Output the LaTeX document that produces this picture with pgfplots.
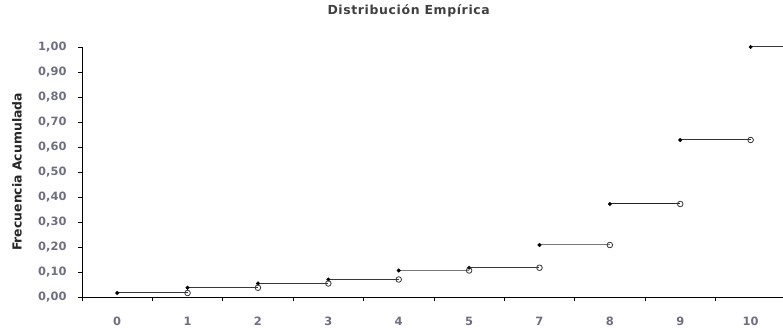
\documentclass[border=0pt]{standalone}
\usepackage{fontspec}
\setmainfont{DejaVu Sans}
\usepackage{pgfplots}
\pgfplotsset{compat=1.18}
\definecolor{ticklab}{RGB}{110,110,130}
\definecolor{dk}{RGB}{55,55,60}
\definecolor{lt}{RGB}{120,120,120}
\definecolor{nv}{RGB}{30,30,80}
\begin{document}
\begin{tikzpicture}
\begin{axis}[
  at={(0,0)}, anchor=south west,
  scale only axis, width=701bp, height=250bp,
  xmin=-0.5, xmax=9.46, ymin=0, ymax=1,
  clip=false,
  axis lines*=left,
  axis line style={-, black, line width=0.8bp},
  tick align=outside,
  tick style={black, line width=0.6bp},
  major tick length=4bp, minor tick length=4bp,
  xtick={0,1,2,3,4,5,6,7,8,9},
  xticklabels={0,1,2,3,4,5,7,8,9,10},
  x tick style={draw=none},
  minor xtick={-0.5,0.5,1.5,2.5,3.5,4.5,5.5,6.5,7.5,8.5},
  minor x tick style={draw=black, line width=0.6bp},
  ytick={0,0.1,0.2,0.3,0.4,0.5,0.6,0.7,0.8,0.9,1.0},
  yticklabel={\pgfmathprintnumber[fixed,fixed zerofill,precision=2,use comma]{\tick}},
  /pgf/number format/assume math mode=true,
  ticklabel style={font=\bfseries\fontsize{11.5}{13}\selectfont, text=ticklab},
  xticklabel style={anchor=center, yshift=-20.5bp, inner sep=0pt},
  yticklabel style={anchor=east, xshift=-8bp},
  ylabel={Frecuencia Acumulada},
  ylabel style={at={(axis description cs:-0.0927,0.5)}, anchor=center, font=\bfseries\fontsize{12.5}{14}\selectfont, text=black!85},
  title={\addfontfeatures{LetterSpace=5}Distribución Empírica},
  title style={at={(axis description cs:0.466,1)}, yshift=30bp, anchor=center, font=\bfseries\fontsize{12.5}{14}\selectfont, text=black!75},
]
% step segments
\addplot[dk, line width=1bp] coordinates {(0,0.016) (1,0.016)};
\addplot[dk, line width=1bp] coordinates {(1,0.037) (2,0.037)};
\addplot[dk, line width=1bp] coordinates {(2,0.054) (3,0.054)};
\addplot[dk, line width=1bp] coordinates {(3,0.070) (4,0.070)};
\addplot[lt, line width=1bp] coordinates {(4,0.106) (5,0.106)};
\addplot[dk, line width=1bp] coordinates {(5,0.117) (6,0.117)};
\addplot[lt, line width=1bp] coordinates {(6,0.208) (7,0.208)};
\addplot[nv, line width=1bp] coordinates {(7,0.372) (8,0.372)};
\addplot[dk!80!nv, line width=1bp] coordinates {(8,0.628) (9,0.628)};
\addplot[dk, line width=1bp] coordinates {(9,1.0) (9.46,1.0)};
% filled left ends
\addplot[only marks, mark=*, mark size=1.8bp, draw=black, fill=black] coordinates {
 (0,0.016) (1,0.037) (2,0.054) (3,0.070) (4,0.106) (5,0.117) (6,0.208) (7,0.372) (8,0.628) (9,1.0)};
% open right ends
\addplot[only marks, mark=o, mark size=2.8bp, draw=dk, line width=0.8bp, fill=white, mark options={fill=white}] coordinates {
 (1,0.016) (2,0.037) (3,0.054) (4,0.070) (5,0.106) (6,0.117) (7,0.208) (8,0.372) (9,0.628)};
\end{axis}
\pgfresetboundingbox
\useasboundingbox (-82bp,-31bp) rectangle (701bp,297bp);
\end{tikzpicture}
\end{document}
